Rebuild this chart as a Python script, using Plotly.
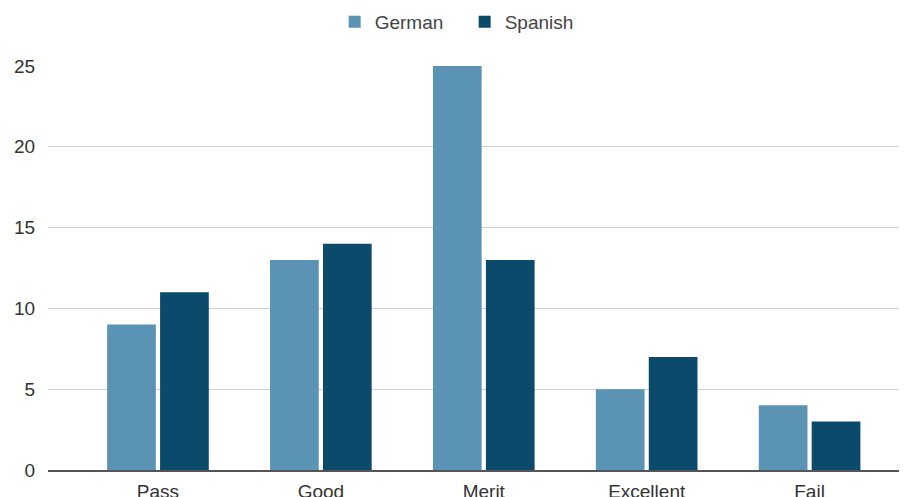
import plotly.graph_objects as go

categories = ["Pass", "Good", "Merit", "Excellent", "Fail"]
german = [9, 13, 25, 5, 4]
spanish = [11, 14, 13, 7, 3]
y_ticks = [0, 5, 10, 15, 20, 25]

fig = go.Figure()
fig.add_trace(go.Bar(name="German", x=categories, y=german, marker_color="#5a93b3",
                     marker_line_width=0))
fig.add_trace(go.Bar(name="Spanish", x=categories, y=spanish, marker_color="#0c4a6b",
                     marker_line_width=0))

fig.update_layout(
    width=907, height=497,
    margin=dict(l=40, r=8, t=58, b=35, autoexpand=False),
    paper_bgcolor="white", plot_bgcolor="white",
    barmode="group", bargap=0.35, bargroupgap=0.08,
    font=dict(family="Liberation Sans, Arial, sans-serif", size=19, color="#333333"),
    legend=dict(orientation="h", xref="container", yref="container",
                x=0.5035, xanchor="center", y=0.972, yanchor="middle",
                entrywidth=85, entrywidthmode="pixels",
                font=dict(size=19, color="#444444"), traceorder="normal"),
    showlegend=True,
)
fig.update_xaxes(range=[-0.675, 4.598], showline=True, linecolor="#555555", linewidth=1.5,
                 showgrid=False, ticks="outside", ticklen=3, tickcolor="rgba(0,0,0,0)",
                 tickfont=dict(size=19, color="#333333"), automargin=False)
fig.update_yaxes(range=[0, 25], tickvals=y_ticks, showgrid=True, gridcolor="#d0d0d0",
                 gridwidth=1, zeroline=False, showline=False,
                 ticks="outside", ticklen=8, tickcolor="rgba(0,0,0,0)",
                 tickfont=dict(size=19, color="#333333"), automargin=False)

fig.write_html("out.html")
